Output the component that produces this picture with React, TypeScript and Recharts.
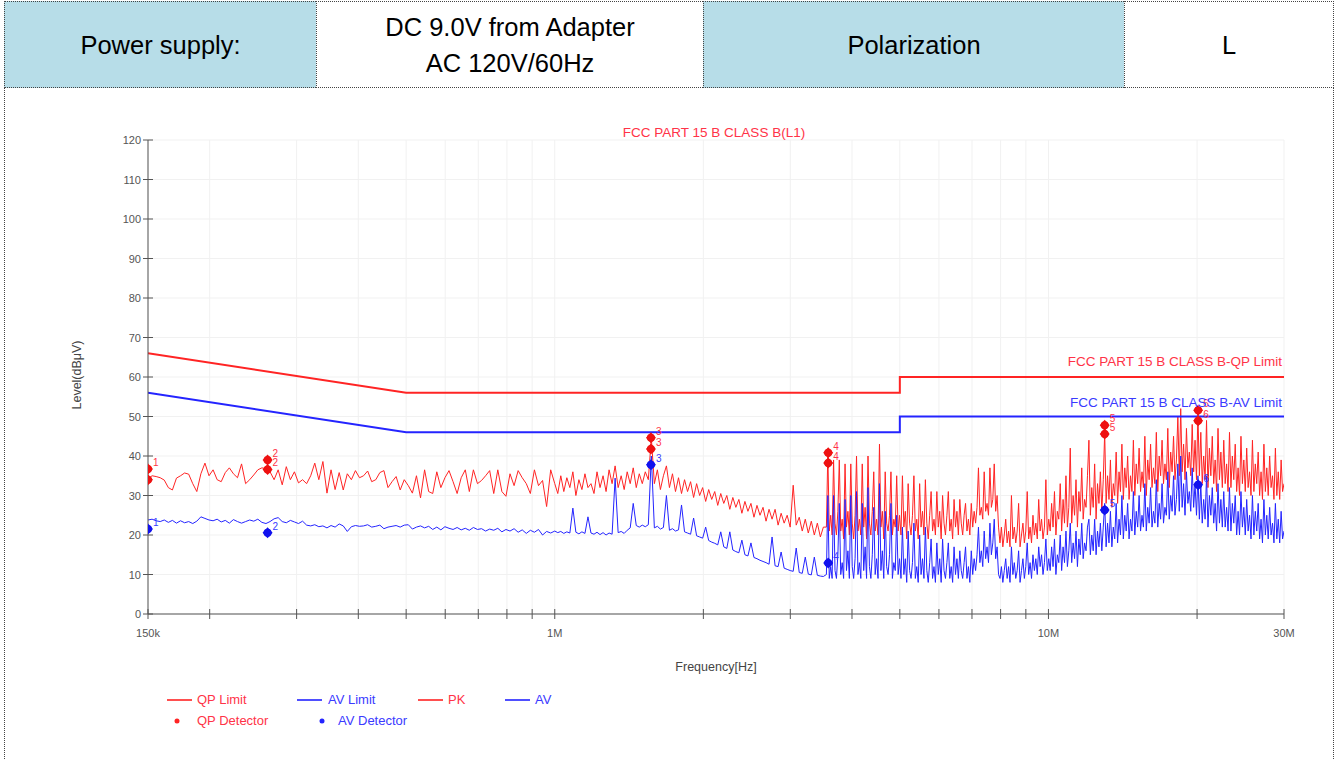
import React from 'react';
import { ComposedChart, Line, Scatter, XAxis, YAxis, CartesianGrid } from 'recharts';

// Sweep segment edges (MHz); each segment's readings are spread on a log grid
const SWEEP_EDGES = [0.15, 1.0, 3.55, 30];

// Peak trace readings (dBuV)
const PK_A = [34.2,35,34.8,34.5,33.9,32,31.4,34.4,35,35.7,
  35.4,33,31,35.5,38.2,35,36.5,34,33.5,35.8,
  37,35.5,34.5,38,33,34,35.2,36.5,37,36.8,
  36,34,36.5,32.7,37.3,34,36,33.2,34,33,
  35,38.2,34,38.6,30.6,36.5,31.5,35.8,31.4,35.5,
  34,36.3,34.5,35,36.2,33.5,34,35.8,36.3,32,
  33.5,34.8,31.4,34,32.5,30.6,35,29.4,36.5,31,
  30.5,36,32,34.5,36.3,33.5,30.5,34.5,36.5,31,
  36.5,33,33.8,35,36.3,30.5,36.5,31,29.8,35.5,
  32.5,36.3,34.5,33,30.5,36.5,32.5,33.8,27.2,36.5];
const PK_B = [33,30.5,35,31,34.5,32,36,30,34,31.5,
  35.5,32,33,30.5,36,32,35,31,36.5,33,
  37.5,32,35,31.5,36,33,37,32,35.5,33,
  36,34,44.6,33,36.5,31.5,35,37.5,32,35.5,
  31,34.5,30.5,34,31,33.5,29.5,33,30,32,
  28.5,31.5,29,31,27.5,30.5,28,30,26.5,29.5,
  27,29,25.5,28.5,26,28,24.5,27.5,25,27,
  23.5,26.5,24,26.5,22.5,25.5,23,25,22,32.6,
  22.5,24.5,21,24,20.5,23.5,20,23,19.5,22];
const PK_C1 = [22,41,21,25,20,39,23,20,26,39,21,24,19,38,22,26,20,38,23,19,
  25,40,21,24,20,38,22,27,19,40,23,20,26,36,21,24,20,43,22,26,
  19,36,23,21,25,36,20,24,22,35,21,25];
const PK_C2 = [20,35,22,26,19,33,23,20,25,35,21,24,19,33,22,26,20,34,23,19,
  25,31,21,24,20,31,22,26,19,30,23,20,25,31,21,24,19,29,22,26,
  20,29,23,20,25,28,21,24,20,28,22,26,23,27,37,25,27,24,36,26,
  28,25,37,27,29,38,26,30,22];
const PK_C3 = [18,22,17,20,24,18,21,17,30,19,22,18,21,28,17,20,23,18,21,31,
  19,22,18,25,20,23,19,29,21,24,19,22,34,20,24];
const PK_C4 = [21,28,22,31,20,26,24,33,21,29,23,35,22,27,42,23,30,25,34,22,
  31,26,37,24,29,27,35,44,25,32,27,38,24,33,28,36,26,34];
const PK_C5 = [46,28,35,29,39,27,33,30,41,28,36,31,43,29,37,32,40,29,35,31,
  44,30,38,33,42,31,36,32,45,30,39,34,43,32,37,33,46,31,40,35,
  44,33,38,34,47,32,41,36,45,34,39,50,35,52,36,43,34,47,37,41,
  35,48,36,44,34,51];
const PK_C6 = [35,46,33,40,34,49,32,42,35,45,33,39,31,47,34,41,32,44,33,38,
  31,46,32,40,34,43,31,37,30,45,33,39,31,42,32,36,30,44,31,38,
  33,41,30,36,29,43,31,37,30,40,32,35,29,42,30,36,29,39,31,33];

// Average trace readings (dBuV)
const AV_A = [23.8,24.0,23.6,23.4,23.8,23.2,23.7,23.0,23.6,23.1,
  23.4,22.9,23.5,24.6,24.2,23.8,23.6,24.0,23.3,23.7,
  23.0,23.9,23.4,23.0,23.4,23.8,23.5,24.0,23.2,22.9,
  23.4,24.1,24.4,23.4,23.1,23.7,23.3,22.9,23.5,22.5,
  22.3,22.6,22.1,22.3,21.8,22.4,22.0,22.8,22.3,20.9,
  22.1,22.4,22.2,22.3,22.6,22.0,22.2,22.5,21.6,22.0,
  22.2,22.4,22.0,22.5,22.6,21.5,22.0,22.3,21.8,22.2,
  21.4,22.0,21.3,22.1,21.7,21.4,21.9,21.3,21.7,21.2,
  21.9,21.4,21.6,21.0,21.5,21.2,21.7,20.8,21.4,21.0,
  21.6,20.7,21.3,20.4,21.2,20.7,21.4,20.0,20.9,20.5];
const AV_B = [21.0,20.6,20.9,20.4,20.8,20.5,26.8,20.7,20.3,20.8,
  20.4,24.6,20.5,20.2,20.7,20.1,20.6,20.0,20.5,20.2,
  34.4,20.6,20.9,20.4,21.2,21.8,28.0,22.4,22.0,22.5,
  22.1,22.6,40.0,21.8,22.2,21.5,21.9,30.0,21.2,21.6,
  21.0,21.3,27.6,20.8,20.5,20.2,24.3,19.8,19.5,19.2,
  22.0,18.6,18.2,17.9,17.5,20.8,17.0,16.6,20.8,16.2,
  15.8,15.5,18.7,15.0,14.7,18.0,14.3,14.0,13.6,13.3,
  13.0,12.6,19.5,12.2,12.0,15.7,11.6,11.3,11.0,10.8,
  16.7,10.5,10.3,14.4,10.1,9.9,14.4,9.8,9.6,9.5];
const AV_C1 = [10,30,9,12,9,30,11,9,15,28,10,13,9,29,11,16,9,30,12,9,
  14,31,10,13,9,28,11,17,9,32,12,9,15,27,10,14,9,33,11,16,
  9,26,12,10,15,28,9,13,11,25,10,14];
const AV_C2 = [9,22,10,14,8,21,11,9,13,23,9,12,8,20,10,14,9,22,11,8,
  13,19,9,12,8,18,10,14,8,19,11,9,13,18,9,12,8,17,10,14,
  9,16,11,9,13,17,9,12,8,16,10,14,11,15,22,13,16,12,21,14,
  17,13,23,15,18,24,14,17,10];
const AV_C3 = [9,12,8,11,14,9,12,8,17,10,13,9,11,16,8,11,14,9,12,18,
  10,13,9,15,11,14,10,17,12,15,10,13,19,11,14];
const AV_C4 = [11,17,12,19,10,15,13,20,11,17,13,21,12,16,23,13,18,14,21,12,
  19,15,23,14,18,16,22,24,15,20,16,24,15,21,17,23,16,22];
const AV_C5 = [28,17,23,18,26,17,22,19,28,18,24,20,30,19,25,21,28,19,24,21,
  31,20,26,22,30,21,25,22,33,21,27,23,32,22,26,23,34,22,28,24,
  33,23,27,25,36,24,30,26,35,25,29,38,26,40,27,33,25,36,28,31,
  26,37,27,33,25,35];
const AV_C6 = [24,33,23,29,24,35,22,30,25,32,23,28,21,33,23,29,22,31,22,27,
  21,32,21,28,23,30,20,26,20,31,22,27,20,29,21,25,19,30,20,26,
  21,28,19,24,18,29,20,25,19,27,20,23,18,28,19,24,18,26,19,21];

// Limits
const LIMIT_FREQ = [0.15, 0.5, 5, 5, 30];
const QP_LIMIT = [66, 56, 56, 60, 60];
const AV_LIMIT = [56, 46, 46, 50, 50];

// Final measurement markers
const MARKER_NO = ['1', '2', '3', '4', '5', '6'];
const MARKER_FREQ = [0.15, 0.262, 1.566, 3.58, 13.0, 20.1];
const QP_PEAK = [36.7, 39.0, 44.6, 40.8, 47.8, 51.6];
const QP_LEVEL = [34.0, 36.6, 41.8, 38.2, 45.6, 48.9];
const AV_LEVEL = [21.5, 20.6, 37.8, 12.9, 26.3, 32.7];

// Axes
const X_TICKS = [0.15, 0.2, 0.3, 0.4, 0.5, 0.6, 0.7, 0.8, 0.9, 1, 2, 3, 4, 5, 6, 7, 8, 9, 10, 20, 30];
const X_TICK_LABELS: Record<string, string> = { '0.15': '150k', '1': '1M', '10': '10M', '30': '30M' };
const Y_TICKS = [0, 10, 20, 30, 40, 50, 60, 70, 80, 90, 100, 110, 120];

const FONT = "'Liberation Sans', Arial, sans-serif";
const RED = '#ff2424';
const BLUE = '#2424ff';
const RED_TEXT = '#ff3347';
const BLUE_TEXT = '#3a3aff';
const AXIS = '#555555';

function sweep(segments: number[][], edges: number[]) {
  const out: { f: number; v: number }[] = [];
  segments.forEach((vals, s) => {
    const a = edges[s];
    const b = edges[s + 1];
    const n = s === segments.length - 1 ? vals.length - 1 : vals.length;
    vals.forEach((v, i) => out.push({ f: a * Math.pow(b / a, i / n), v }));
  });
  return out;
}

const PK_C = [...PK_C1, ...PK_C2, ...PK_C3, ...PK_C4, ...PK_C5, ...PK_C6];
const AV_C = [...AV_C1, ...AV_C2, ...AV_C3, ...AV_C4, ...AV_C5, ...AV_C6];
const pkData = sweep([PK_A, PK_B, PK_C], SWEEP_EDGES);
const avData = sweep([AV_A, AV_B, AV_C], SWEEP_EDGES);
const qpLimitData = LIMIT_FREQ.map((f, i) => ({ f, v: QP_LIMIT[i] }));
const avLimitData = LIMIT_FREQ.map((f, i) => ({ f, v: AV_LIMIT[i] }));
const qpDetData = [
  ...MARKER_FREQ.map((f, i) => ({ f, v: QP_PEAK[i], n: MARKER_NO[i] })),
  ...MARKER_FREQ.map((f, i) => ({ f, v: QP_LEVEL[i], n: i === 0 ? '' : MARKER_NO[i] })),
];
const avDetData = MARKER_FREQ.map((f, i) => ({ f, v: AV_LEVEL[i], n: MARKER_NO[i] }));

function XTick(props: any) {
  const { x, y, payload } = props;
  const label = X_TICK_LABELS[String(payload.value)];
  return (
    <g>
      <line x1={x} x2={x} y1={y - 5} y2={y + 5} stroke={AXIS} strokeWidth={1} />
      {label ? (
        <text x={x} y={y + 23} textAnchor="middle" fontSize={11} fill="#555" fontFamily={FONT}>
          {label}
        </text>
      ) : null}
    </g>
  );
}

function YTick(props: any) {
  const { x, y, payload } = props;
  return (
    <g>
      <line x1={x - 5} x2={x + 5} y1={y} y2={y} stroke={AXIS} strokeWidth={1} />
      <text x={x - 7} y={y + 4} textAnchor="end" fontSize={11} fill="#555" fontFamily={FONT}>
        {payload.value}
      </text>
    </g>
  );
}

function makeMarker(color: string, textColor: string) {
  return (p: any) => {
    const { cx, cy, payload } = p;
    if (cx == null || cy == null) return <g />;
    return (
      <g>
        <circle cx={cx} cy={cy} r={4} fill={color} />
        <path d={`M${cx},${cy - 5.5}L${cx + 5},${cy}L${cx},${cy + 5.5}L${cx - 5},${cy}Z`} fill={color} />
        {payload.n ? (
          <text x={cx + 5} y={cy - 3} fontSize={10} fill={textColor} fontFamily={FONT}>
            {payload.n}
          </text>
        ) : null}
      </g>
    );
  };
}

const cellBase: React.CSSProperties = {
  position: 'absolute',
  top: 1,
  height: 87,
  boxSizing: 'border-box',
  borderLeft: '1px dotted #444',
  borderTop: '1px dotted #444',
  borderBottom: '1px dotted #444',
  display: 'flex',
  alignItems: 'center',
  justifyContent: 'center',
  textAlign: 'center',
  fontFamily: FONT,
  fontSize: 25.5,
  lineHeight: '36px',
  color: '#000',
};

export default function App() {
  return (
    <div style={{ position: 'fixed', left: 0, top: 0, width: 1338, height: 760, background: '#fff', overflow: 'hidden' }}>
      <div style={{ position: 'absolute', left: 0, top: 0 }}>
        <ComposedChart width={1338} height={760} margin={{ top: 140, right: 54, bottom: 116, left: 88 }}>
          <CartesianGrid stroke="#f1f1f1" />
          <XAxis
            dataKey="f"
            type="number"
            scale="log"
            domain={[0.15, 30]}
            allowDataOverflow
            ticks={X_TICKS}
            interval={0}
            tickSize={0}
            tickMargin={0}
            tickLine={false}
            tick={(p: any) => <XTick {...p} />}
            axisLine={{ stroke: AXIS }}
            height={30}
          />
          <YAxis
            dataKey="v"
            type="number"
            domain={[0, 120]}
            allowDataOverflow
            ticks={Y_TICKS}
            interval={0}
            tickSize={0}
            tickMargin={0}
            tickLine={false}
            tick={(p: any) => <YTick {...p} />}
            axisLine={{ stroke: AXIS }}
            width={60}
          />
          <Line data={pkData} dataKey="v" stroke={RED} strokeWidth={1} dot={false} isAnimationActive={false} />
          <Line data={avData} dataKey="v" stroke={BLUE} strokeWidth={1} dot={false} isAnimationActive={false} />
          <Line data={qpLimitData} dataKey="v" stroke={RED} strokeWidth={2} dot={false} isAnimationActive={false} />
          <Line data={avLimitData} dataKey="v" stroke={BLUE} strokeWidth={2} dot={false} isAnimationActive={false} />
          <Scatter data={qpDetData} dataKey="v" fill={RED} shape={makeMarker('#ee1111', RED_TEXT)} isAnimationActive={false} />
          <Scatter data={avDetData} dataKey="v" fill={BLUE} shape={makeMarker('#1111ee', BLUE_TEXT)} isAnimationActive={false} />
        </ComposedChart>
      </div>

      <svg width={1338} height={760} style={{ position: 'absolute', left: 0, top: 0, pointerEvents: 'none' }} fontFamily={FONT}>
        <text x={714} y={137} textAnchor="middle" fontSize={13.5} fill={RED_TEXT}>FCC PART 15 B CLASS B(L1)</text>
        <text x={1282} y={366} textAnchor="end" fontSize={13.5} fill={RED_TEXT}>FCC PART 15 B CLASS B-QP Limit</text>
        <text x={1282} y={407} textAnchor="end" fontSize={13.5} fill={BLUE_TEXT}>FCC PART 15 B CLASS B-AV Limit</text>
        <text x={0} y={0} transform="translate(81,375) rotate(-90)" textAnchor="middle" fontSize={12.5} fill="#444">Level(dBμV)</text>
        <text x={716} y={671} textAnchor="middle" fontSize={12.5} fill="#444">Frequency[Hz]</text>

        <line x1={167} x2={192} y1={700} y2={700} stroke={RED} strokeWidth={2} opacity={0.8} />
        <text x={197} y={704} fontSize={13} fill={RED_TEXT}>QP Limit</text>
        <line x1={297} x2={322} y1={700} y2={700} stroke={BLUE} strokeWidth={2} opacity={0.8} />
        <text x={328} y={704} fontSize={13} fill={BLUE_TEXT}>AV Limit</text>
        <line x1={418} x2={443} y1={700} y2={700} stroke={RED} strokeWidth={2} opacity={0.8} />
        <text x={448} y={704} fontSize={13} fill={RED_TEXT}>PK</text>
        <line x1={505} x2={530} y1={700} y2={700} stroke={BLUE} strokeWidth={2} opacity={0.8} />
        <text x={535} y={704} fontSize={13} fill={BLUE_TEXT}>AV</text>
        <circle cx={177} cy={721} r={2.5} fill={RED} />
        <text x={197} y={725} fontSize={13} fill={RED_TEXT}>QP Detector</text>
        <circle cx={322} cy={721} r={2.5} fill={BLUE} />
        <text x={338} y={725} fontSize={13} fill={BLUE_TEXT}>AV Detector</text>
      </svg>

      {/* header table */}
      <div style={{ ...cellBase, left: 4, width: 312, background: '#b7dde8' }}>Power supply:</div>
      <div style={{ ...cellBase, left: 316, width: 387, background: '#fff' }}>
        DC 9.0V from Adapter
        <br />
        AC 120V/60Hz
      </div>
      <div style={{ ...cellBase, left: 703, width: 421, background: '#b7dde8' }}>Polarization</div>
      <div style={{ ...cellBase, left: 1124, width: 210, background: '#fff', borderRight: '1px dotted #444' }}>L</div>
      {/* chart frame */}
      <div
        style={{
          position: 'absolute',
          left: 4,
          top: 87,
          width: 1330,
          height: 680,
          boxSizing: 'border-box',
          borderLeft: '1px dotted #444',
          borderRight: '1px dotted #444',
          pointerEvents: 'none',
        }}
      />
    </div>
  );
}
